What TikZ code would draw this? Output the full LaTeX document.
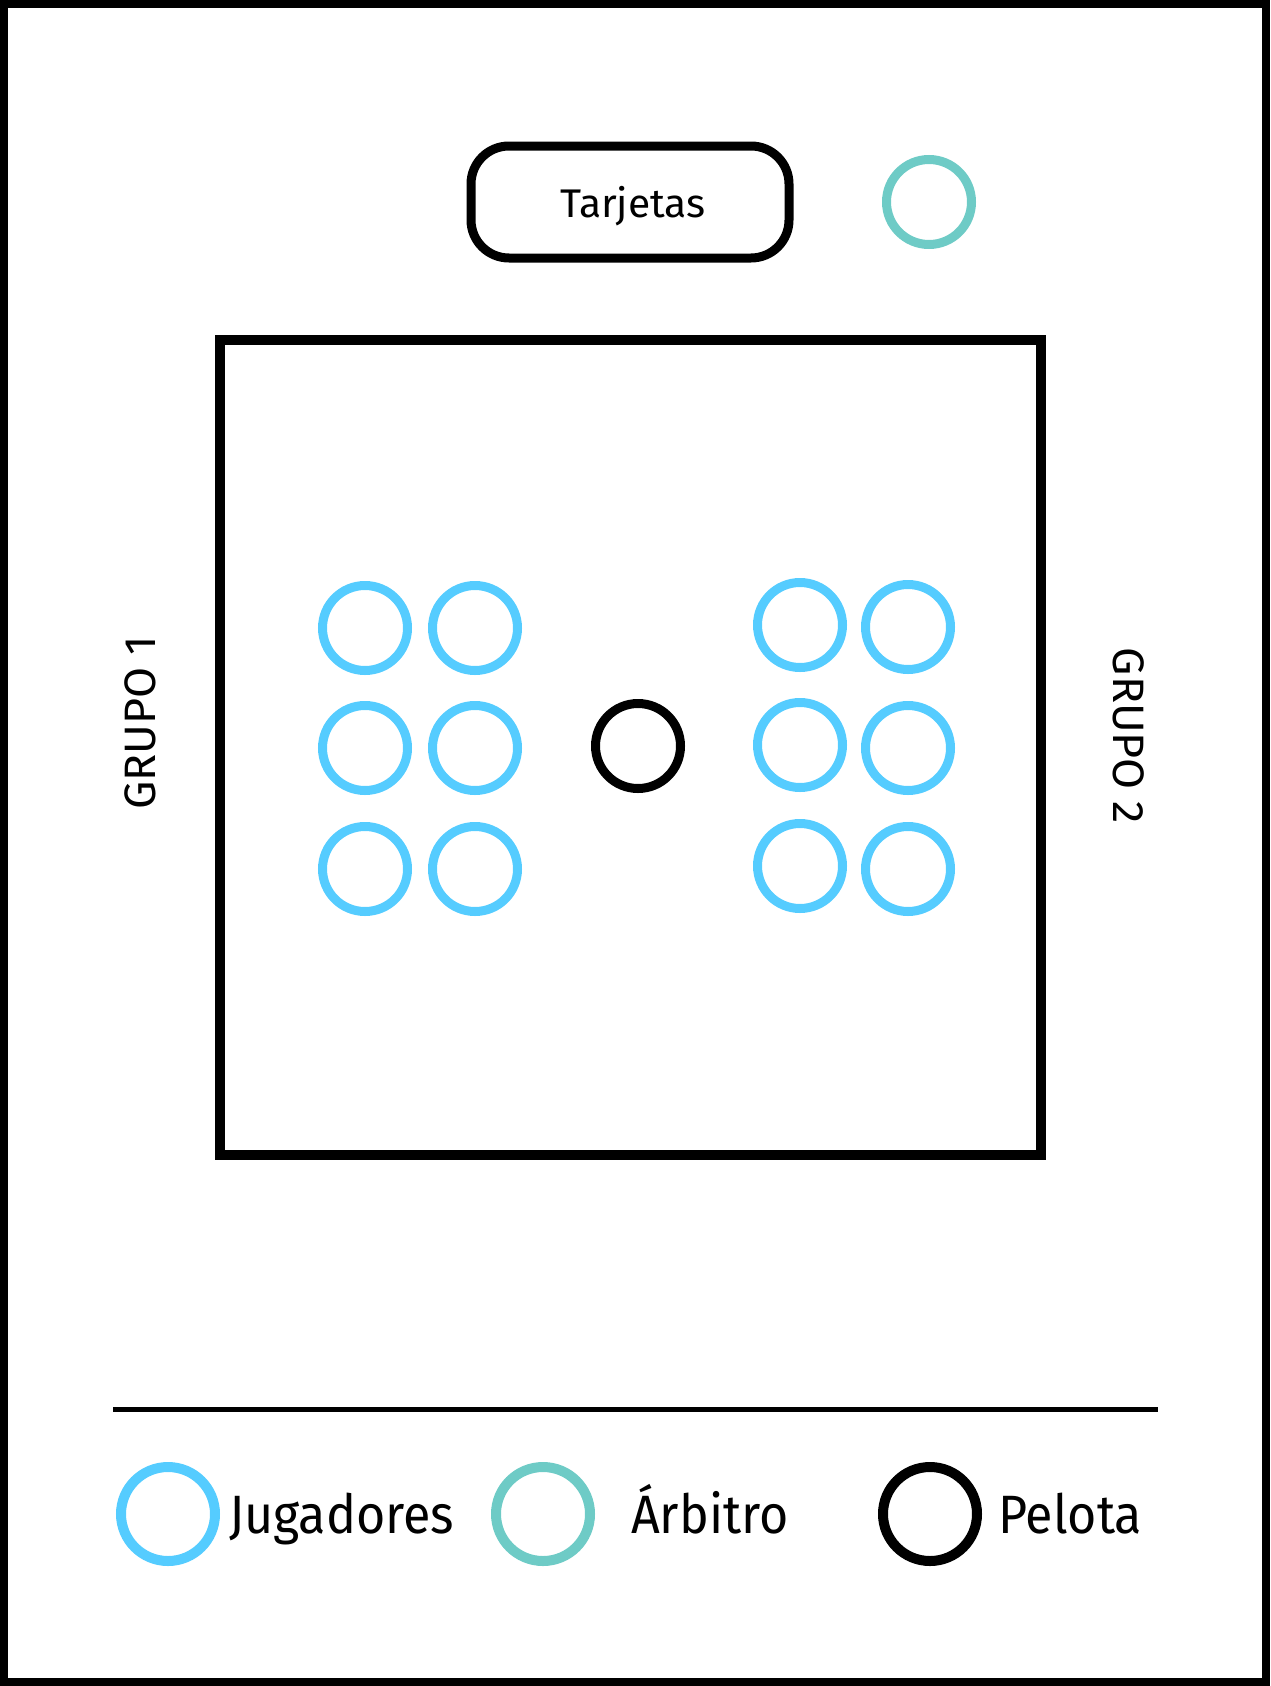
\documentclass[tikz,border=0pt]{standalone}
\usepackage{fontspec}
\setmainfont{Fira Sans}[FakeStretch=0.93]
\newfontfamily\widefont{Fira Sans}[FakeStretch=1.02]
\definecolor{player}{HTML}{55CCFF}
\definecolor{referee}{HTML}{6ECBC6}
\begin{document}
\begin{tikzpicture}[x=1pt,y=-1pt,
  player/.style={circle,draw=player,line width=9pt,minimum size=85pt,inner sep=0pt},
  referee/.style={circle,draw=referee,line width=9pt,minimum size=85pt,inner sep=0pt},
  ball/.style={circle,draw=black,line width=9pt,minimum size=85pt,inner sep=0pt},
  legplayer/.style={player,line width=10pt,minimum size=94pt},
  legreferee/.style={referee,line width=10pt,minimum size=94pt},
  legball/.style={ball,line width=10pt,minimum size=94pt},
  legtext/.style={font=\fontsize{54}{60}\selectfont,anchor=base west,inner sep=0pt},
  grupo/.style={font=\widefont\fontsize{44}{50}\selectfont,inner sep=0pt}]
\useasboundingbox (0,0) rectangle (1270,1686);
\draw[line width=8pt] (4,4) rectangle (1266,1682);
% Tarjetas box
\node[draw,line width=9pt,rounded corners=38pt,minimum width=318pt,minimum height=112pt,inner sep=0pt] (tarjetas) at (630,202) {};
\node[font=\widefont\fontsize{40}{46}\selectfont,inner sep=0pt] (ttext) at (633,206) {Tarjetas};
\node[referee] (ref) at (929,202) {};
% field
\draw[line width=10pt] (220,340) rectangle (1041,1155);
% players group 1
\node[player] (a1) at (365,628) {};
\node[player] (a2) at (475,628) {};
\node[player] (a3) at (365,748) {};
\node[player] (a4) at (475,748) {};
\node[player] (a5) at (365,869) {};
\node[player] (a6) at (475,869) {};
% players group 2
\node[player] (b1) at (800,625) {};
\node[player] (b2) at (908,627) {};
\node[player] (b3) at (800,745) {};
\node[player] (b4) at (908,748) {};
\node[player] (b5) at (800,866) {};
\node[player] (b6) at (908,869) {};
% ball
\node[ball] (ball) at (638,746) {};
% group labels
\node[grupo,rotate=90] (g1) at (140,723) {GRUPO 1};
\node[grupo,rotate=-90] (g2) at (1129,736) {GRUPO 2};
% legend
\coordinate (l1) at (113,1409);
\coordinate (l2) at (1158,1409);
\draw[line width=5pt] (l1) -- (l2);
\node[legplayer] (lp) at (168,1514) {};
\node[legtext] (tp) at (229,1533) {Jugadores};
\node[legreferee] (lr) at (543,1514) {};
\node[legtext] (tr) at (631,1533) {Árbitro};
\node[legball] (lb) at (930,1514) {};
\node[legtext] (tb) at (998,1533) {Pelota};
\end{tikzpicture}
\end{document}
